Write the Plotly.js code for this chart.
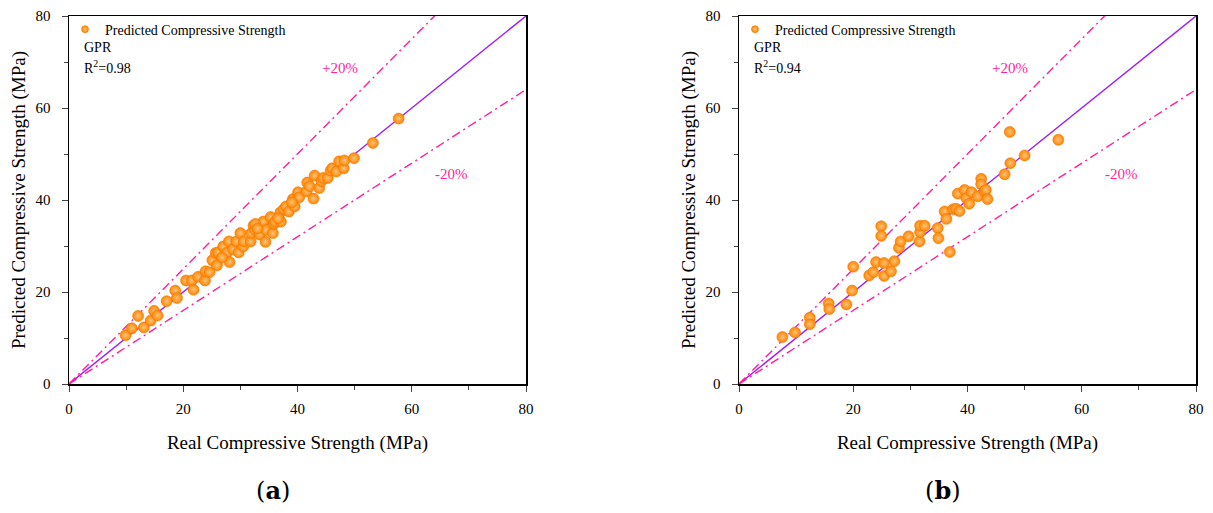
<!DOCTYPE html>
<html>
<head>
<meta charset="utf-8">
<script src="https://cdn.plot.ly/plotly-3.0.1.min.js"></script>
<style>
  html, body { margin: 0; padding: 0; background: #fff; }
  #plot { width: 1213px; height: 513px; }
</style>
</head>
<body>
<div id="plot"></div>
<script>
// (a) GPR, values
const realA = [9.9, 11.0, 12.1, 13.1, 14.3, 14.9, 15.5, 17.1, 18.6, 18.9,
  20.5, 21.5, 21.8, 22.6, 23.8, 23.9, 24.6, 25.1, 25.7, 25.9,
  26.1, 27.0, 27.6, 28.1, 28.0, 28.7, 29.3, 29.7, 30.0, 30.5,
  30.6, 31.8, 31.9, 32.3, 32.6, 33.4, 34.0, 34.4, 34.5, 35.3,
  35.7, 35.9, 36.1, 37.0, 37.1, 37.6, 38.0, 38.5, 39.2, 39.5,
  40.1, 40.3, 41.6, 41.7, 42.1, 42.8, 43.0, 43.8, 44.2, 44.5,
  45.3, 45.8, 46.1, 46.8, 47.3, 48.1, 48.2, 49.9, 53.2, 57.7,
  32.6, 36.6, 39.0, 33.0, 26.8];
const predA = [10.6, 12.1, 14.8, 12.3, 13.8, 15.9, 14.9, 18.0, 20.3, 18.7,
  22.5, 22.5, 20.5, 23.3, 22.5, 24.5, 24.3, 26.9, 28.5, 25.8,
  28.6, 29.9, 28.5, 26.5, 31.0, 29.3, 31.0, 28.6, 32.8, 29.9,
  31.0, 31.0, 32.8, 34.4, 33.5, 32.5, 35.3, 30.9, 33.5, 36.3,
  32.8, 34.8, 35.3, 37.3, 35.3, 38.0, 38.6, 37.5, 40.2, 38.6,
  41.7, 40.6, 41.9, 43.8, 43.0, 40.3, 45.3, 42.6, 44.1, 44.8,
  44.8, 46.4, 46.9, 46.2, 48.4, 46.9, 48.6, 49.1, 52.4, 57.7,
  34.8, 36.0, 39.5, 33.8, 27.5];

// (b) GPR
const realB = [7.6, 9.8, 12.4, 12.4, 15.7, 15.8, 18.8, 19.8, 20.0, 22.8,
  23.5, 24.0, 24.9, 24.9, 25.4, 25.4, 26.6, 27.2, 28.0, 28.3,
  29.7, 31.6, 31.7, 31.7, 32.5, 34.8, 34.9, 36.0, 36.3, 36.9,
  37.5, 38.0, 38.3, 38.6, 39.5, 39.8, 40.3, 40.7, 41.8, 42.4,
  42.4, 43.0, 43.2, 43.5, 46.5, 47.4, 47.5, 50.0, 55.9];
const predB = [10.2, 11.2, 14.4, 13.0, 17.5, 16.3, 17.3, 20.3, 25.5, 23.6,
  24.3, 26.5, 34.3, 32.2, 23.5, 26.3, 24.5, 26.7, 29.6, 31.0,
  32.1, 31.0, 33.0, 34.4, 34.4, 33.9, 31.7, 37.5, 35.9, 28.7,
  38.0, 38.1, 41.4, 37.6, 42.2, 40.4, 39.2, 41.7, 40.8, 44.6,
  43.4, 41.9, 42.2, 40.2, 45.6, 54.8, 48.0, 49.7, 53.1];

// reference lines: y = x, +20% (x/0.8), -20% (0.8x)
const refX = [0, 80];
const refRatio = [1, 1 / 0.8, 0.8];
const r2Labels = ['R<sup>2</sup>=0.98', 'R<sup>2</sup>=0.94'];
const panelLabels = ['(<b>a</b>)', '(<b>b</b>)'];

const serif = 'Liberation Serif, Times New Roman, serif';
const pink = '#ff1fa0';
const purple = '#a020f0';
const ballMarker = {
  color: '#ff8400',
  gradient: { type: 'radial', color: '#ffc47a' },
  line: { color: '#f07800', width: 0.6 },
};

function scatter(x, y, xa, ya) {
  return {
    x: x, y: y, xaxis: xa, yaxis: ya,
    type: 'scatter', mode: 'markers',
    showlegend: false,
    marker: { size: 11, ...ballMarker },
  };
}

// legend entry only (the legend ball is drawn smaller than the data balls)
function legendEntry(xa, ya, leg) {
  return {
    x: [null], y: [null], xaxis: xa, yaxis: ya,
    type: 'scatter', mode: 'markers',
    name: 'Predicted Compressive Strength',
    legend: leg,
    marker: { size: 7, ...ballMarker },
  };
}

function refLines(xa, ya) {
  return refRatio.map((k, i) => ({
    x: refX,
    y: refX.map(v => v * k),
    xaxis: xa, yaxis: ya,
    type: 'scatter', mode: 'lines',
    showlegend: false, hoverinfo: 'skip',
    line: i === 0
      ? { color: purple, width: 1.4 }
      : { color: pink, width: 1.4, dash: '9px,4px,2px,4px' },
  }));
}

const data = [
  ...refLines('x', 'y'),
  ...refLines('x2', 'y2'),
  scatter(realA, predA, 'x', 'y'),
  scatter(realB, predB, 'x2', 'y2'),
  legendEntry('x', 'y', 'legend'),
  legendEntry('x2', 'y2', 'legend2'),
];

function xax(dom) {
  return {
    domain: dom, range: [0, 80], dtick: 20, ticks: 'outside', ticklen: 6,
    minor: { dtick: 10, ticks: 'outside', ticklen: 4 },
    showline: true, mirror: true, linecolor: '#000', linewidth: 1.5,
    showgrid: false, zeroline: false, automargin: false,
    ticklabelstandoff: 4,
    tickfont: { family: serif, size: 15, color: '#000' },
    title: { text: 'Real Compressive Strength (MPa)', font: { family: serif, size: 19, color: '#000' }, standoff: 20 },
  };
}
function yax(anchor) {
  return {
    anchor: anchor, domain: [0, 1], range: [0, 80], dtick: 20, ticks: 'outside', ticklen: 6,
    minor: { dtick: 10, ticks: 'outside', ticklen: 4 },
    showline: true, mirror: true, linecolor: '#000', linewidth: 1.5,
    showgrid: false, zeroline: false, automargin: false,
    ticklabelstandoff: 8,
    tickfont: { family: serif, size: 15, color: '#000' },
    title: { text: 'Predicted Compressive Strength (MPa)', font: { family: serif, size: 19, color: '#000' }, standoff: 5 },
  };
}

const domA = [69 / 1213, 526 / 1213];
const domB = [739 / 1213, 1196 / 1213];

const annotations = [];
[['x', 'y', 'x domain', 'y domain', 0], ['x2', 'y2', 'x2 domain', 'y2 domain', 1]].forEach(([xa, ya, xd, yd, i]) => {
  annotations.push(
    { xref: xd, yref: yd, x: 0.028, y: 0.914, xanchor: 'left', yanchor: 'middle', showarrow: false,
      text: 'GPR', font: { family: serif, size: 14, color: '#000' } },
    { xref: xd, yref: yd, x: 0.028, y: 0.862, xanchor: 'left', yanchor: 'middle', showarrow: false,
      text: r2Labels[i], font: { family: serif, size: 14, color: '#000' } },
    { xref: xa, yref: ya, x: 47.4, y: 68.8, showarrow: false,
      text: '+20%', font: { family: serif, size: 15, color: pink } },
    { xref: xa, yref: ya, x: 67, y: 45.7, showarrow: false,
      text: '-20%', font: { family: serif, size: 15, color: pink } },
    { xref: xd, yref: 'paper', x: 0.447, y: -0.29, yanchor: 'middle', showarrow: false,
      text: panelLabels[i], font: { family: 'DejaVu Serif, serif', size: 24, color: '#000' } }
  );
});

const legendBase = {
  yanchor: 'middle', xanchor: 'left', bgcolor: 'rgba(0,0,0,0)',
  font: { family: serif, size: 14, color: '#000' },
  itemwidth: 30, tracegroupgap: 0,
};

const layout = {
  width: 1213, height: 513,
  margin: { l: 0, r: 0, t: 16, b: 129 },
  paper_bgcolor: '#fff', plot_bgcolor: '#fff',
  xaxis: xax(domA), yaxis: yax('x'),
  xaxis2: xax(domB), yaxis2: yax('x2'),
  legend: { ...legendBase, x: 65 / 1213, y: 0.963 },
  legend2: { ...legendBase, x: 735 / 1213, y: 0.963 },
  annotations: annotations,
};

Plotly.newPlot('plot', data, layout, { displayModeBar: false, staticPlot: true });
</script>
</body>
</html>
